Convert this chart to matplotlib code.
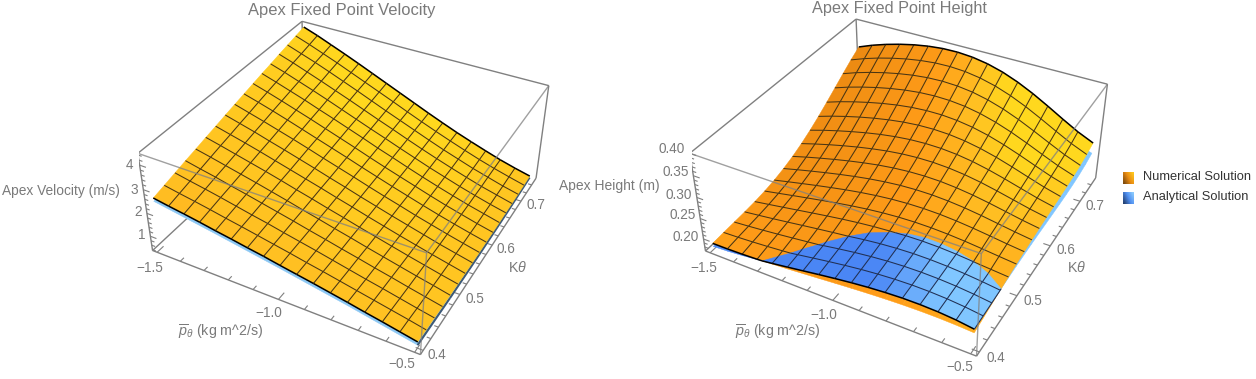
import numpy as np
import matplotlib
matplotlib.use("Agg")
import matplotlib.pyplot as plt
from matplotlib.colors import LinearSegmentedColormap, to_rgb
from mpl_toolkits.mplot3d.art3d import Poly3DCollection, Line3DCollection

W, H = 1256, 379

p_theta = [-1.5, -1.4375, -1.375, -1.3125, -1.25, -1.1875, -1.125, -1.0625, -1.0,
           -0.9375, -0.875, -0.8125, -0.75, -0.6875, -0.625, -0.5625, -0.5]
k_theta = [0.4, 0.421875, 0.44375, 0.465625, 0.4875, 0.509375, 0.53125, 0.553125, 0.575,
           0.596875, 0.61875, 0.640625, 0.6625, 0.684375, 0.70625, 0.728125, 0.75]

# rows go along k_theta, columns along p_theta
velocity_numerical = np.array([
    [259, 248, 238, 227, 215, 204, 192, 181, 168, 156, 144, 131, 118, 104, 91, 77, 63],
    [271, 259, 248, 236, 223, 211, 198, 185, 172, 158, 145, 131, 117, 103, 89, 75, 60],
    [283, 270, 258, 245, 231, 217, 204, 189, 175, 161, 146, 131, 116, 102, 87, 72, 58],
    [295, 281, 268, 253, 239, 224, 209, 194, 178, 163, 147, 132, 116, 101, 85, 70, 55],
    [306, 292, 277, 262, 247, 231, 215, 198, 182, 165, 149, 132, 116, 100, 84, 69, 53],
    [318, 303, 287, 271, 255, 238, 220, 203, 185, 168, 150, 133, 116, 99, 83, 67, 52],
    [329, 313, 297, 280, 262, 244, 226, 208, 189, 171, 152, 134, 116, 99, 82, 66, 50],
    [341, 324, 307, 288, 270, 251, 232, 212, 193, 173, 154, 135, 117, 99, 81, 65, 49],
    [352, 334, 316, 297, 278, 258, 237, 217, 197, 176, 156, 137, 117, 99, 81, 64, 48],
    [363, 345, 326, 306, 285, 264, 243, 222, 200, 179, 158, 138, 118, 99, 81, 64, 48],
    [374, 355, 335, 314, 293, 271, 249, 227, 204, 182, 161, 140, 119, 99, 81, 63, 47],
    [385, 365, 344, 323, 300, 278, 255, 232, 208, 186, 163, 141, 120, 100, 81, 64, 47],
    [395, 375, 353, 331, 308, 284, 260, 236, 213, 189, 166, 143, 122, 101, 82, 64, 48],
    [406, 385, 362, 339, 315, 291, 266, 241, 217, 192, 168, 145, 123, 102, 82, 65, 48],
    [416, 394, 372, 348, 323, 298, 272, 246, 221, 196, 171, 147, 125, 103, 84, 65, 49],
    [426, 404, 380, 356, 330, 304, 278, 252, 225, 199, 174, 150, 127, 105, 85, 67, 50],
    [436, 414, 389, 364, 338, 311, 284, 257, 230, 203, 177, 152, 129, 107, 86, 68, 52],
]) / 100

# only its edges show under the numerical sheet, so every 4th grid line is enough
velocity_analytical = np.array([
    [245, 201, 154, 104, 49],
    [294, 235, 170, 104, 41],
    [341, 267, 186, 107, 38],
    [386, 299, 204, 113, 39],
    [429, 331, 223, 122, 45],
]) / 100

height_numerical = np.array([
    [1853, 1855, 1865, 1882, 1905, 1932, 1963, 1994, 2026, 2056, 2083, 2106, 2123, 2133, 2134, 2124, 2103],
    [1872, 1887, 1909, 1936, 1968, 2003, 2039, 2074, 2108, 2137, 2162, 2180, 2190, 2192, 2185, 2169, 2144],
    [1883, 1913, 1947, 1985, 2026, 2069, 2111, 2151, 2186, 2216, 2238, 2252, 2256, 2251, 2237, 2215, 2187],
    [1895, 1939, 1985, 2034, 2085, 2135, 2183, 2227, 2265, 2295, 2315, 2324, 2322, 2310, 2288, 2259, 2228],
    [1915, 1972, 2030, 2089, 2148, 2205, 2259, 2307, 2346, 2375, 2392, 2396, 2388, 2367, 2337, 2302, 2267],
    [1948, 2017, 2086, 2154, 2220, 2284, 2342, 2392, 2432, 2459, 2472, 2470, 2453, 2424, 2385, 2342, 2302],
    [1998, 2078, 2156, 2232, 2304, 2373, 2433, 2484, 2523, 2547, 2555, 2546, 2520, 2480, 2431, 2378, 2332],
    [2069, 2158, 2243, 2325, 2402, 2473, 2535, 2586, 2623, 2642, 2643, 2624, 2588, 2536, 2474, 2411, 2356],
    [2160, 2258, 2349, 2435, 2515, 2587, 2650, 2698, 2730, 2743, 2736, 2706, 2657, 2592, 2517, 2441, 2377],
    [2274, 2377, 2473, 2562, 2643, 2715, 2776, 2821, 2847, 2852, 2834, 2793, 2730, 2649, 2559, 2469, 2394],
    [2407, 2516, 2614, 2704, 2786, 2857, 2914, 2954, 2973, 2969, 2940, 2885, 2806, 2709, 2602, 2496, 2409],
    [2558, 2671, 2771, 2862, 2942, 3010, 3063, 3097, 3108, 3094, 3052, 2982, 2887, 2772, 2647, 2525, 2424],
    [2723, 2839, 2940, 3030, 3109, 3174, 3222, 3249, 3252, 3226, 3171, 3086, 2973, 2841, 2697, 2558, 2443],
    [2896, 3015, 3117, 3207, 3284, 3346, 3389, 3409, 3402, 3366, 3297, 3196, 3067, 2916, 2754, 2597, 2467],
    [3070, 3193, 3297, 3387, 3462, 3521, 3560, 3574, 3559, 3512, 3430, 3315, 3169, 2999, 2820, 2646, 2503],
    [3238, 3365, 3473, 3564, 3640, 3697, 3733, 3742, 3720, 3663, 3570, 3441, 3280, 3094, 2898, 2709, 2553],
    [3390, 3524, 3637, 3732, 3810, 3868, 3903, 3909, 3882, 3819, 3717, 3576, 3402, 3202, 2991, 2789, 2623],
]) / 10000

height_analytical = np.array([
    [1776, 1797, 1830, 1873, 1923, 1977, 2033, 2090, 2143, 2192, 2233, 2264, 2284, 2288, 2276, 2244, 2190],
    [1765, 1801, 1846, 1898, 1955, 2015, 2075, 2133, 2187, 2234, 2271, 2297, 2310, 2308, 2290, 2255, 2203],
    [1753, 1804, 1862, 1923, 1988, 2054, 2118, 2178, 2232, 2276, 2310, 2331, 2337, 2329, 2306, 2268, 2217],
    [1748, 1814, 1883, 1954, 2027, 2098, 2165, 2227, 2280, 2322, 2351, 2367, 2366, 2351, 2322, 2281, 2231],
    [1756, 1835, 1915, 1995, 2074, 2150, 2220, 2282, 2334, 2372, 2397, 2405, 2397, 2374, 2338, 2292, 2243],
    [1780, 1872, 1962, 2049, 2133, 2212, 2284, 2345, 2394, 2429, 2446, 2447, 2430, 2397, 2353, 2301, 2250],
    [1824, 1927, 2026, 2119, 2207, 2288, 2359, 2419, 2463, 2492, 2501, 2492, 2465, 2422, 2367, 2308, 2254],
    [1889, 2003, 2108, 2206, 2296, 2377, 2446, 2502, 2541, 2561, 2561, 2541, 2501, 2446, 2380, 2313, 2254],
    [1976, 2098, 2209, 2310, 2401, 2480, 2547, 2597, 2629, 2640, 2629, 2595, 2542, 2472, 2394, 2315, 2251],
    [2084, 2213, 2328, 2430, 2521, 2598, 2660, 2704, 2727, 2727, 2703, 2655, 2586, 2501, 2408, 2317, 2245],
    [2210, 2345, 2463, 2566, 2655, 2728, 2785, 2820, 2834, 2822, 2784, 2721, 2636, 2534, 2424, 2320, 2239],
    [2351, 2491, 2611, 2714, 2801, 2870, 2919, 2947, 2949, 2925, 2872, 2793, 2690, 2571, 2445, 2326, 2235],
    [2501, 2646, 2769, 2871, 2955, 3019, 3062, 3081, 3073, 3035, 2968, 2872, 2751, 2614, 2470, 2337, 2235],
    [2654, 2805, 2930, 3032, 3114, 3174, 3211, 3221, 3202, 3152, 3070, 2958, 2820, 2665, 2504, 2356, 2244],
    [2802, 2959, 3088, 3192, 3273, 3330, 3361, 3364, 3336, 3274, 3178, 3051, 2897, 2725, 2549, 2387, 2266],
    [2935, 3102, 3236, 3343, 3425, 3481, 3510, 3507, 3471, 3400, 3293, 3152, 2983, 2797, 2607, 2434, 2305],
    [3044, 3222, 3366, 3479, 3565, 3623, 3651, 3647, 3606, 3528, 3412, 3261, 3081, 2882, 2681, 2500, 2367],
]) / 10000

P_LIM = (-1.52, -0.48)
K_LIM = (0.393, 0.757)
VEL_LIM = (0.36, 4.47)
HEIGHT_LIM = (0.17, 0.40)
p_ticks = [-1.5, -1.4, -1.3, -1.2, -1.1, -1.0, -0.9, -0.8, -0.7, -0.6, -0.5]
p_major = [-1.5, -1.0, -0.5]
k_ticks = [0.40, 0.42, 0.44, 0.46, 0.48, 0.50, 0.52, 0.54, 0.56, 0.58, 0.60, 0.62, 0.64, 0.66, 0.68, 0.70, 0.72, 0.74]
k_major = [0.4, 0.5, 0.6, 0.7]
vel_ticks = [0.4, 0.6, 0.8, 1.0, 1.2, 1.4, 1.6, 1.8, 2.0, 2.2, 2.4, 2.6, 2.8, 3.0, 3.2, 3.4, 3.6, 3.8, 4.0, 4.2, 4.4]
vel_major = [1, 2, 3, 4]
height_ticks = [0.18, 0.19, 0.20, 0.21, 0.22, 0.23, 0.24, 0.25, 0.26, 0.27, 0.28, 0.29, 0.30, 0.31, 0.32, 0.33, 0.34, 0.35, 0.36, 0.37, 0.38, 0.39, 0.40]
height_major = [0.20, 0.25, 0.30, 0.35, 0.40]

# elev, azim, roll, focal length, y aspect, z aspect, scale, origin x, origin y
CAM_L = (35.8868, -61.8476, -0.2242, 0.4410, 1.0111, 0.4019, 2257.1, 353.7, 212.2)
CAM_R = (36.0250, -61.0378, 0.4379, 0.4497, 0.9992, 0.3986, 2286.7, 908.8, 212.4)

GRAY = "#808080"
ORANGE_STOPS = ([-0.37, -0.05, 0.19, 0.40], ["#EC8A12", "#FF9C18", "#FFBE22", "#FFD81E"])
BLUE_STOPS = ([-0.10, 0.06], ["#4A86F5", "#80C6FF"])

plt.rcParams["font.family"] = ["Liberation Sans", "DejaVu Sans"]
plt.rcParams["mathtext.fontset"] = "custom"
plt.rcParams["mathtext.rm"] = "Liberation Sans"
plt.rcParams["mathtext.it"] = "Liberation Sans:italic"
fig = plt.figure(figsize=(W / 100, H / 100), dpi=100)


def ramp(t, stops):
    rgb = np.array([to_rgb(c) for c in stops[1]])
    return np.array([np.interp(t, stops[0], rgb[:, i]) for i in range(3)]).T


def place(ax, s, tx, ty):
    fig.canvas.draw()
    x0, y0 = ax.transData.transform((0, 0))
    x1, _ = ax.transData.transform((1, 0))
    bb = ax.get_window_extent()
    k = s / (x1 - x0)
    nw = bb.width * k
    ax.set_position([(tx - (x0 - bb.x0) * k) / W, (ty - (y0 - bb.y0) * k) / H, nw / W, nw / H])


def clip_poly(pts, d):
    out = []
    n = len(pts)
    for i in range(n):
        a, b = pts[i], pts[(i + 1) % n]
        da, db = d[i], d[(i + 1) % n]
        if da > 0:
            out.append(a)
        if (da > 0) != (db > 0):
            out.append(a + (b - a) * da / (da - db))
    return out


def cells(X, Y, Z):
    vs = []
    for j in range(len(Y) - 1):
        for i in range(len(X) - 1):
            vs.append(np.array([[X[i], Y[j], Z[j, i]], [X[i + 1], Y[j], Z[j, i + 1]],
                                [X[i + 1], Y[j + 1], Z[j + 1, i + 1]], [X[i], Y[j + 1], Z[j + 1, i]]]))
    return vs


def slopes(Z, zlim, az):
    z = (Z - zlim[0]) / (zlim[1] - zlim[0])
    du = (z[:-1, 1:] - z[:-1, :-1] + z[1:, 1:] - z[1:, :-1]) / 2 * (Z.shape[1] - 1)
    return (-du * az).ravel()


def mesh_segments(X, Y, Z, D, sign):
    inner, bound, side = [], [], []
    nx, ny = len(X), len(Y)

    def add(p, q, dp, dq, target):
        if dp * sign >= 0 and dq * sign >= 0:
            seg = [p, q]
        elif dp * sign >= 0:
            seg = [p, p + (q - p) * dp / (dp - dq)]
        elif dq * sign >= 0:
            seg = [q, q + (p - q) * dq / (dq - dp)]
        else:
            return
        target.append(seg)

    for j in range(ny):
        for i in range(nx - 1):
            add(np.array([X[i], Y[j], Z[j, i]]), np.array([X[i + 1], Y[j], Z[j, i + 1]]),
                D[j, i], D[j, i + 1], bound if j in (0, ny - 1) else inner)
    for i in range(nx):
        for j in range(ny - 1):
            add(np.array([X[i], Y[j], Z[j, i]]), np.array([X[i], Y[j + 1], Z[j + 1, i]]),
                D[j, i], D[j + 1, i], side if i in (0, nx - 1) else inner)
    return inner, bound, side


def draw_box(ax, zlim, z_ticks, z_major):
    x0, x1 = P_LIM
    y0, y1 = K_LIM
    z0, z1 = zlim
    back = [((x0, y0, z0), (x1, y0, z0)), ((x1, y0, z0), (x1, y1, z0)), ((x0, y0, z0), (x0, y1, z0)),
            ((x0, y0, z0), (x0, y0, z1)), ((x0, y1, z0), (x0, y1, z1)), ((x1, y1, z0), (x1, y1, z1)),
            ((x0, y0, z1), (x0, y1, z1)), ((x0, y1, z1), (x1, y1, z1))]
    front = [((x0, y0, z1), (x1, y0, z1)), ((x1, y0, z1), (x1, y1, z1)), ((x1, y0, z0), (x1, y0, z1))]
    ax.add_collection3d(Line3DCollection(back, colors=GRAY, linewidths=1.0, zorder=0))
    ax.add_collection3d(Line3DCollection(front, colors=GRAY, linewidths=1.0, alpha=0.75, zorder=9))
    dx, dy = x1 - x0, y1 - y0
    ticks = []
    for v in p_ticks:
        ticks.append(((v, y0, z0), (v, y0 + dy * (0.035 if v in p_major else 0.02), z0)))
    for v in k_ticks:
        ticks.append(((x1, v, z0), (x1 - dx * (0.025 if v in k_major else 0.014), v, z0)))
    for v in z_ticks:
        ticks.append(((x0, y0, v), (x0 + dx * (0.025 if v in z_major else 0.014), y0, v)))
    ax.add_collection3d(Line3DCollection(ticks, colors=GRAY, linewidths=0.8, zorder=0))


def panel(cam, Z_num, Z_ana, zlim, z_ticks, z_major):
    ax = fig.add_axes([0.3, 0.1, 0.2, 0.2 * W / H], projection="3d", computed_zorder=False)
    ax.set_axis_off()
    ax.patch.set_visible(False)
    ax.set_xlim(*P_LIM)
    ax.set_ylim(*K_LIM)
    ax.set_zlim(*zlim)
    ax.elev, ax.azim, ax.roll = cam[:3]
    ax.set_proj_type("persp", focal_length=cam[3])
    ax.set_box_aspect((1, cam[4], cam[5]))
    place(ax, *cam[6:])
    draw_box(ax, zlim, z_ticks, z_major)

    X, Y = np.array(p_theta), np.array(k_theta)
    coarse = Z_ana.shape != Z_num.shape
    if coarse:
        Xa, Ya = X[::4], Y[::4]
        D = -np.ones_like(Z_num)
        fa = np.tile(to_rgb("#8CC8F4"), ((len(Xa) - 1) * (len(Ya) - 1), 1))
        edge = [[(Xa[-1], Ya[j], Z_ana[j, -1]), (Xa[-1], Ya[j + 1], Z_ana[j + 1, -1])] for j in range(len(Ya) - 1)]
        ax.add_collection3d(Line3DCollection(edge, colors="#3d5a78", linewidths=1.5, zorder=1.5))
    else:
        Xa, Ya = X, Y
        D = Z_ana - Z_num
        fa = ramp(slopes(Z_ana, zlim, cam[5]), BLUE_STOPS)
    ax.add_collection3d(Poly3DCollection(cells(Xa, Ya, Z_ana), facecolors=fa, edgecolors=fa, linewidths=0.3, zorder=1))
    fn = ramp(slopes(Z_num, zlim, cam[5]), ORANGE_STOPS)
    ax.add_collection3d(Poly3DCollection(cells(X, Y, Z_num), facecolors=fn, edgecolors=fn, linewidths=0.3, zorder=2))
    if not coarse:
        # blue sheet on top wherever it rises above the orange one
        vs, fs = [], []
        nx = len(X)
        for n, c in enumerate(cells(X, Y, Z_ana)):
            j, i = n // (nx - 1), n % (nx - 1)
            dd = [D[j, i], D[j, i + 1], D[j + 1, i + 1], D[j + 1, i]]
            if max(dd) > 0:
                vs.append(np.array(clip_poly(list(c), dd)))
                fs.append(fa[n])
        ax.add_collection3d(Poly3DCollection(vs, facecolors=fs, edgecolors=fs, linewidths=0.3, zorder=3))
        inner, bound, side = mesh_segments(X, Y, Z_ana, D, 1)
        ax.add_collection3d(Line3DCollection(inner + side, colors="#1f2f55", linewidths=0.75, zorder=4))
        ax.add_collection3d(Line3DCollection(bound, colors="black", linewidths=1.1, zorder=5))
    inner, bound, _ = mesh_segments(X, Y, Z_num, D, -1)
    ax.add_collection3d(Line3DCollection(inner, colors="#4a3512", linewidths=0.75, zorder=4))
    ax.add_collection3d(Line3DCollection(bound, colors="black", linewidths=1.1, zorder=5))
    return ax


panel(CAM_L, velocity_numerical, velocity_analytical, VEL_LIM, vel_ticks, vel_major)
panel(CAM_R, height_numerical, height_analytical, HEIGHT_LIM, height_ticks, height_major)


def label(px, py, s, size=9.5, color="#7a7a7a", ha="center"):
    fig.text(px / W, 1 - py / H, s, fontsize=size, color=color, ha=ha, va="center")


PLABEL = r"$\overline{p}_{\theta}$ (kg m^2/s)"
KLABEL = r"K$\theta$"
label(342, 11, "Apex Fixed Point Velocity", 11.9)
label(899, 9, "Apex Fixed Point Height", 11.7)
label(61, 191, "Apex Velocity (m/s)", 9.9)
label(609, 186, "Apex Height (m)", 10)
for px, py, s in [(221, 332, PLABEL), (778, 332, PLABEL), (518, 268, KLABEL), (1077, 268, KLABEL)]:
    label(px, py, s, 10.3)
for px, py, s in [(129, 165, "4"), (134, 190, "3"), (138, 212, "2"), (142, 235, "1"),
                  (150, 268, "\u22121.5"), (269, 313, "\u22121.0"), (402, 364, "\u22120.5"),
                  (437, 355, "0.4"), (475, 299, "0.5"), (506, 249, "0.6"), (536, 205, "0.7"),
                  (672, 149, "0.40"), (676, 172, "0.35"), (679, 195, "0.30"), (683, 215, "0.25"), (686, 237, "0.20"),
                  (704, 268, "\u22121.5"), (824, 315, "\u22121.0"), (960, 367, "\u22120.5"),
                  (996, 358, "0.4"), (1033, 301, "0.5"), (1066, 250, "0.6"), (1095, 206, "0.7")]:
    label(px, py, s, 9.8)


def swatch(py, colors):
    a = fig.add_axes([1123 / W, 1 - (py + 12) / H, 11 / W, 12 / H])
    xx, yy = np.meshgrid(np.linspace(0, 1, 16), np.linspace(1, 0, 16))
    shade = np.clip(xx * 1.2 - 0.1, 0, 1) * 0.6 + yy * 0.4
    a.imshow(shade, cmap=LinearSegmentedColormap.from_list("s", colors), aspect="auto", vmin=0, vmax=1)
    a.axis("off")


swatch(172, ["#7a4a10", "#E88A12", "#FFC81E"])
swatch(192, ["#24406e", "#4F8EF0", "#90D0FF"])
label(1143, 177, "Numerical Solution", 9.3, "#333333", "left")
label(1143, 197, "Analytical Solution", 9.3, "#333333", "left")

fig.savefig("out.png", dpi=100)
